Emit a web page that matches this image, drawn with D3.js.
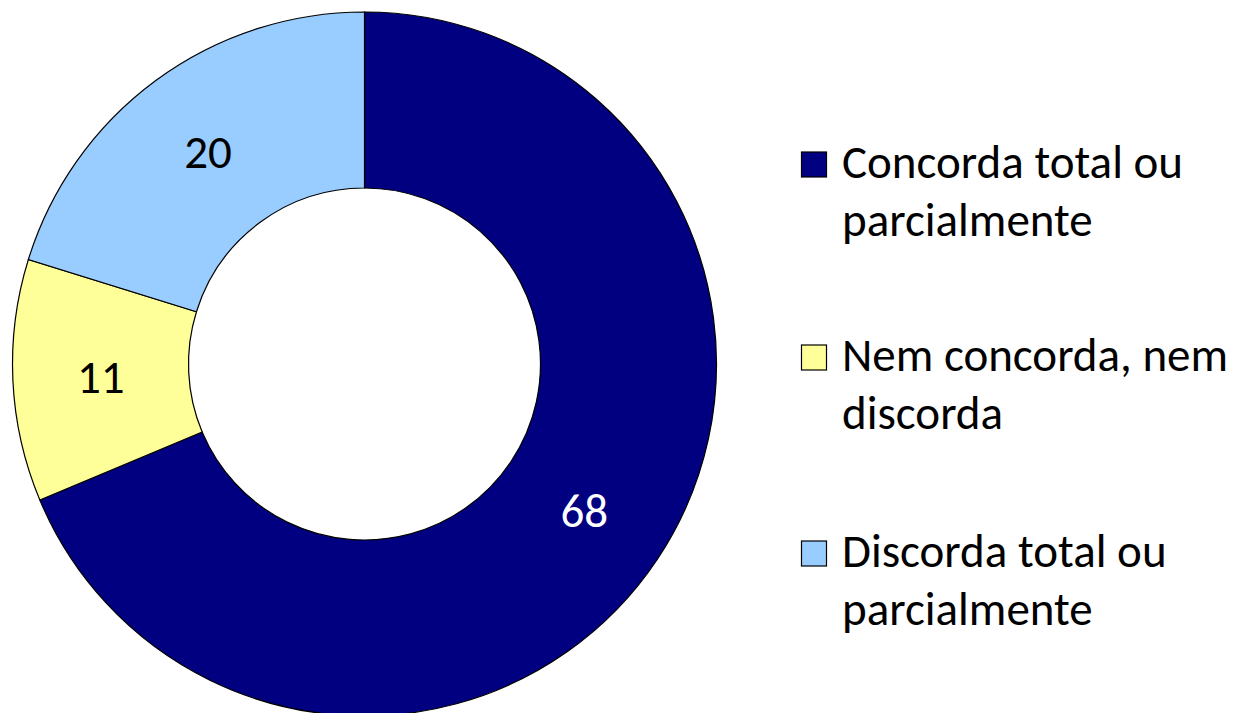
<!DOCTYPE html>
<html>
<head>
<meta charset="utf-8">
<title>Donut</title>
<script src="https://cdn.jsdelivr.net/npm/d3@7"></script>
<style>
body, html { margin: 0; padding: 0; background: #fff; }
svg { display: block; }
text { font-family: Calibri, Carlito, Lato, sans-serif; }
</style>
</head>
<body>
<script>
// data
var categories = ["Concorda total ou parcialmente", "Nem concorda, nem discorda", "Discorda total ou parcialmente"];
var legendLines = [["Concorda total ou", "parcialmente"], ["Nem concorda, nem", "discorda"], ["Discorda total ou", "parcialmente"]];
var values = [68, 11, 20];
var colors = ["#000080", "#FFFF99", "#99CCFF"];
var labelColors = ["#fff", "#000", "#000"];

var width = 1235, height = 713;
var cx = 364.5, cy = 364, outerR = 352, innerR = 176;

var svg = d3.select("body").append("svg")
  .attr("width", width)
  .attr("height", height);

var pie = d3.pie().sort(null).value(function(d) { return d; });
var arc = d3.arc().innerRadius(innerR).outerRadius(outerR);

var g = svg.append("g").attr("transform", "translate(" + cx + "," + cy + ")");

g.selectAll("path")
  .data(pie(values))
  .enter().append("path")
  .attr("d", arc)
  .attr("fill", function(d, i) { return colors[i]; })
  .attr("stroke", "#000")
  .attr("stroke-width", 1.2);

g.selectAll("text.lbl")
  .data(pie(values))
  .enter().append("text")
  .attr("class", "lbl")
  .attr("transform", function(d) { return "translate(" + arc.centroid(d) + ")"; })
  .attr("text-anchor", "middle")
  .attr("dy", "0.35em")
  .attr("font-size", 47)
  .attr("fill", function(d, i) { return labelColors[i]; })
  .text(function(d) { return d.data; });

// legend
var legend = svg.append("g").attr("transform", "translate(801,0)");
var baselines = [178, 371, 567];
var items = legend.selectAll("g.item")
  .data(categories)
  .enter().append("g")
  .attr("class", "item")
  .attr("transform", function(d, i) { return "translate(0," + baselines[i] + ")"; });

items.append("rect")
  .attr("x", 0.5).attr("y", -26)
  .attr("width", 25).attr("height", 25)
  .attr("fill", function(d, i) { return colors[i]; })
  .attr("stroke", "#000")
  .attr("stroke-width", 1.2);

items.append("text")
  .attr("x", 41)
  .attr("font-size", 47)
  .attr("fill", "#000")
  .selectAll("tspan")
  .data(function(d, i) { return legendLines[i]; })
  .enter().append("tspan")
  .attr("x", 41)
  .attr("y", function(d, j) { return j * 58; })
  .text(function(d) { return d; });
</script>
</body>
</html>
